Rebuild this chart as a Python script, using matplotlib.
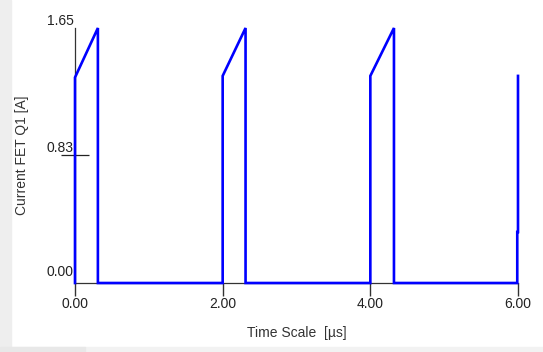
import matplotlib
matplotlib.use("Agg")
import matplotlib.pyplot as plt
from matplotlib.patches import Rectangle
from matplotlib.transforms import ScaledTranslation

plt.rcParams['font.family'] = ['Liberation Sans', 'DejaVu Sans']

# switching current of Q1 over three periods
time_us = [0.0, 0.0, 0.31, 0.31, 2.0, 2.0, 2.31, 2.31, 4.0, 4.0, 4.32, 4.32,
           5.99, 5.99, 6.0, 6.0]
current_a = [0.0, 1.33, 1.65, 0.0, 0.0, 1.34, 1.65, 0.0, 0.0, 1.34, 1.65, 0.0,
             0.0, 0.33, 0.33, 1.34]

xticks = [0.0, 2.0, 4.0, 6.0]
xtick_labels = ["0.00", "2.00", "4.00", "6.00"]
yticks = [0.0, 0.83, 1.65]
ytick_labels = ["0.00", "0.83", "1.65"]

fig = plt.figure(figsize=(5.43, 3.52), dpi=100)
fig.patch.set_facecolor("white")
# grey frame strips from the host window
fig.patches.append(Rectangle((0, 0), 11 / 543, 1, transform=fig.transFigure,
                             color="#eeeeee", zorder=0))
fig.patches.append(Rectangle((0, 0), 1, 5 / 352, transform=fig.transFigure,
                             color="#f2f2f2", zorder=0))
fig.patches.append(Rectangle((0, 0), 85 / 543, 5 / 352, transform=fig.transFigure,
                             color="#e8e8e8", zorder=0))

ax = fig.add_axes([75 / 543, 69 / 352, 443 / 543, 255 / 352])
ax.plot(time_us, current_a, color="#0000ff", lw=1.9, clip_on=False, zorder=3,
        solid_joinstyle="miter")
ax.set_xlim(0, 6)
ax.set_ylim(0, 1.65)

for s in ["top", "right"]:
    ax.spines[s].set_visible(False)
ax.spines["left"].set_color("#333333")
ax.spines["bottom"].set_color("#333333")
ax.spines["left"].set_linewidth(0.9)
ax.spines["bottom"].set_linewidth(0.9)

ax.set_xticks(xticks)
ax.set_xticklabels(xtick_labels)
ax.tick_params(axis="x", direction="out", length=9, width=1.0, color="#333333",
               labelsize=10, pad=1, labelcolor="#222222")

ax.set_yticks(yticks)
ax.set_yticklabels(ytick_labels, va="bottom")
ax.tick_params(axis="y", direction="inout", length=20, width=0.9, color="#222222",
               labelsize=10, pad=-9, labelcolor="#222222")
ytk = ax.yaxis.get_major_ticks()
ytk[0].tick1line.set_visible(False)
ytk[2].tick1line.set_visible(False)
for lab in ax.get_yticklabels():
    lab.set_horizontalalignment("right")
# lift the zero label a little, as in the original
zero_lab = ax.get_yticklabels()[0]
zero_lab.set_transform(zero_lab.get_transform() +
                       ScaledTranslation(0, 4 / 100, fig.dpi_scale_trans))

ax.set_xlabel("Time Scale  [\u00b5s]", fontsize=10, color="#333333")
ax.xaxis.set_label_coords(0.5, -43 / 255)
ax.set_ylabel("Current FET Q1 [A]", fontsize=10, color="#333333")
ax.yaxis.set_label_coords(-46 / 443, 0.5)

fig.savefig("out.png", dpi=100)
